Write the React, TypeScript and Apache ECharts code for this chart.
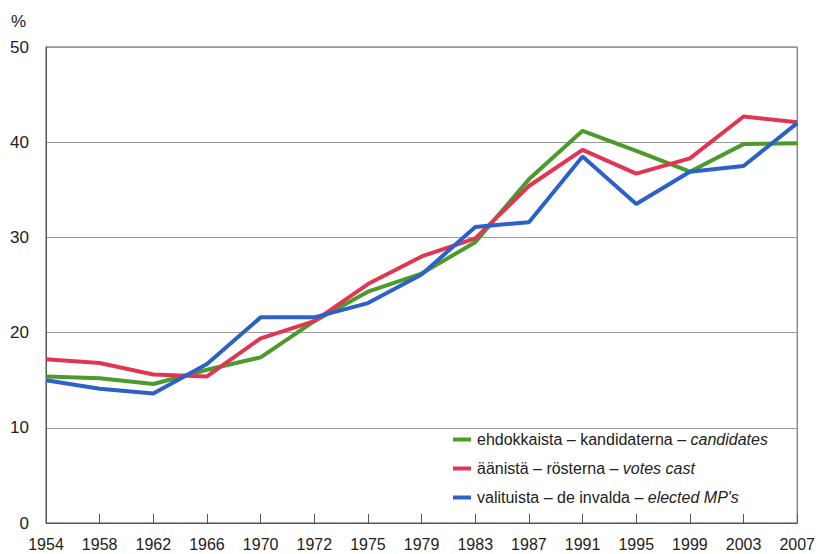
import React, { useEffect, useRef } from "react";
import * as echarts from "echarts";

const years = ["1954", "1958", "1962", "1966", "1970", "1972", "1975", "1979", "1983", "1987", "1991", "1995", "1999", "2003", "2007"];
const candidates = [15.4, 15.2, 14.6, 16.1, 17.4, 21.2, 24.3, 26.2, 29.5, 36.1, 41.2, 39.1, 36.9, 39.8, 39.9];
const votesCast = [17.2, 16.8, 15.6, 15.4, 19.4, 21.2, 25.1, 28.0, 29.9, 35.4, 39.2, 36.7, 38.3, 42.7, 42.1];
const electedMPs = [15.0, 14.1, 13.6, 16.7, 21.6, 21.6, 23.1, 26.1, 31.1, 31.6, 38.5, 33.5, 36.9, 37.5, 42.0];
const seriesNames = [
  "ehdokkaista – kandidaterna – candidates",
  "äänistä – rösterna – votes cast",
  "valituista – de invalda – elected MP's",
];
const yTicks = { min: 0, max: 50, interval: 10 };

const FONT = "'Liberation Sans', Arial, Helvetica, sans-serif";

export default function App() {
  const ref = useRef<HTMLDivElement>(null);
  useEffect(() => {
    document.body.style.margin = "0";
    const chart = echarts.init(ref.current!, undefined, { renderer: "svg" });
    const colors = ["#4b9a2b", "#e03652", "#2c61c8"];
    const data = [candidates, votesCast, electedMPs];
    chart.setOption({
      animation: false,
      textStyle: { fontFamily: FONT },
      grid: {
        left: 46,
        right: 16,
        top: 47,
        bottom: 31,
        show: true,
        borderColor: "#555",
        borderWidth: 1,
      },
      graphic: [
        {
          type: "text",
          left: 11,
          top: 13,
          style: { text: "%", fontSize: 17, fill: "#222", fontFamily: FONT },
        },
      ],
      legend: {
        orient: "vertical",
        left: 448,
        top: 425,
        itemWidth: 18,
        itemHeight: 4,
        itemGap: 10,
        icon: "rect",
        data: seriesNames,
        textStyle: {
          fontSize: 16,
          lineHeight: 19,
          color: "#222",
          fontFamily: FONT,
          padding: [0, 0, 0, 1],
          rich: {
            i: { fontStyle: "italic", fontSize: 16, lineHeight: 19, color: "#222", fontFamily: FONT },
          },
        },
        formatter: (name: string) => {
          const idx = name.lastIndexOf(" – ");
          return name.slice(0, idx + 3) + "{i|" + name.slice(idx + 3) + "}";
        },
      },
      xAxis: {
        type: "category",
        data: years,
        boundaryGap: false,
        axisLine: { lineStyle: { color: "#555", width: 1 } },
        axisTick: { inside: true, length: 9, lineStyle: { color: "#555" } },
        axisLabel: { fontSize: 16, color: "#222", margin: 13, interval: 0, showMaxLabel: true },
        splitLine: { show: false },
      },
      yAxis: {
        type: "value",
        min: yTicks.min,
        max: yTicks.max,
        interval: yTicks.interval,
        axisLine: { show: true, lineStyle: { color: "#555", width: 1 } },
        axisTick: { show: false },
        axisLabel: { fontSize: 17, color: "#222", margin: 17 },
        splitLine: { lineStyle: { color: "#999", width: 1 } },
      },
      series: seriesNames.map((name, i) => ({
        name,
        type: "line",
        data: data[i],
        symbol: "none",
        lineStyle: { width: 4, color: colors[i] },
        itemStyle: { color: colors[i] },
      })),
    });
    return () => chart.dispose();
  }, []);
  return <div ref={ref} style={{ width: 818, height: 554 }} />;
}
